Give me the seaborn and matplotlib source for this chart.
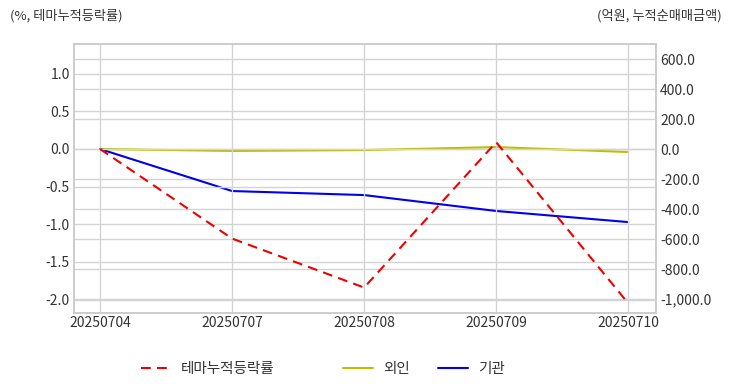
import pandas as pd
import seaborn as sns
import matplotlib.pyplot as plt
from matplotlib.ticker import FuncFormatter

# values
dates = ["20250704", "20250707", "20250708", "20250709", "20250710"]
theme_rate = [0.0, -1.19, -1.84, 0.09, -2.05]       # %, left axis
foreign = [0.0, -13.0, -7.0, 13.0, -20.0]           # 억원, right axis
institution = [0.0, -280.0, -307.0, -413.0, -487.0]  # 억원, right axis

left_ticks = [-2.0, -1.5, -1.0, -0.5, 0.0, 0.5, 1.0]
right_ticks = [-1000, -800, -600, -400, -200, 0, 200, 400, 600]

df = pd.DataFrame({"date": dates, "theme": theme_rate,
                   "foreign": foreign, "inst": institution})

sns.set_theme(style="white")
plt.rcParams["font.family"] = ["Noto Sans CJK KR", "DejaVu Sans"]
txt = "#333333"
grid = "#d4d4d4"

fig = plt.figure(figsize=(7.32, 3.92), dpi=100)
ax = fig.add_axes([74 / 732, 1 - 313 / 392, 582 / 732, 269 / 392])
ax2 = ax.twinx()

sns.lineplot(data=df, x="date", y="theme", ax=ax, color="#ee0000",
             linestyle=(0, (4.7, 3.0)), linewidth=1.5, label="테마누적등락률", legend=False)
sns.lineplot(data=df, x="date", y="foreign", ax=ax2, color="#bfbf00",
             linewidth=1.5, label="외인", legend=False)
sns.lineplot(data=df, x="date", y="inst", ax=ax2, color="#0000ee",
             linewidth=1.5, label="기관", legend=False)

ax.set_xlim(-0.197, 4.21)
ax.set_ylim(-2.178, 1.394)
ax2.set_ylim(-1093, 700)
ax.set_yticks(left_ticks)
ax2.set_yticks(right_ticks)
ax.yaxis.set_major_formatter(FuncFormatter(lambda v, p: f"{v:.1f}"))
ax2.yaxis.set_major_formatter(FuncFormatter(lambda v, p: f"{v:,.1f}"))

for a in (ax, ax2):
    a.set_xlabel("")
    a.set_ylabel("")
    a.tick_params(length=0, labelsize=10, colors=txt, pad=3)
    a.grid(True, color=grid, linewidth=1)
    a.set_axisbelow(True)
    for s in a.spines.values():
        s.set_color("#cccccc")
        s.set_linewidth(1.2)
ax2.grid(True, axis="y", color=grid, linewidth=1)
ax2.xaxis.grid(False)
ax.tick_params(axis="x", pad=2)
ax.set_zorder(ax2.get_zorder() + 1)
ax.patch.set_visible(False)

fig.text(10 / 732, 1 - 16 / 392, "(%, 테마누적등락률)", fontsize=9.5, color=txt, va="center")
fig.text(722 / 732, 1 - 16 / 392, "(억원, 누적순매매금액)", fontsize=9.5, color=txt,
         va="center", ha="right")

h1, l1 = ax.get_legend_handles_labels()
h2, l2 = ax2.get_legend_handles_labels()
leg1 = fig.legend(h1, l1, loc="center left", bbox_to_anchor=(128 / 732, 1 - 369 / 392),
                  frameon=False, fontsize=10.5, handlelength=2.05, handletextpad=0.7,
                  labelcolor=txt)
leg2 = fig.legend(h2, l2, loc="center left", bbox_to_anchor=(330 / 732, 1 - 369 / 392),
                  frameon=False, fontsize=10.5, handlelength=2.05, handletextpad=0.7,
                  ncol=2, columnspacing=1.9, labelcolor=txt)

fig.savefig("out.png", dpi=100)
